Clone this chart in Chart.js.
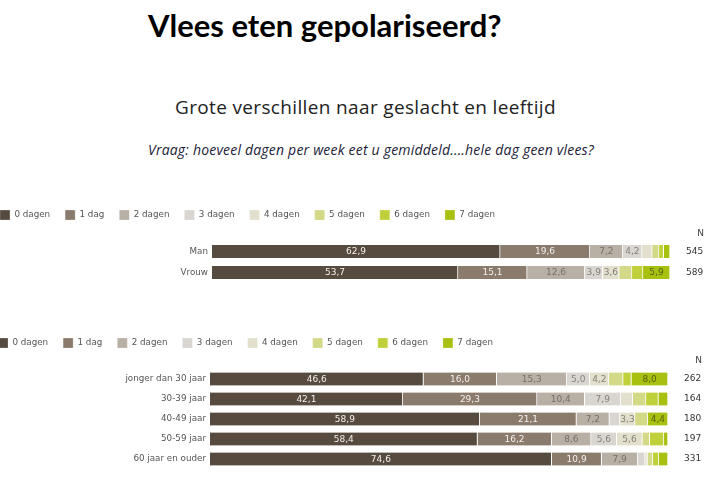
<!DOCTYPE html>
<html>
<head>
<meta charset="utf-8">
<script src="https://cdn.jsdelivr.net/npm/chart.js"></script>
<style>
  body { margin: 0; width: 708px; height: 477px; background: #fff; position: relative; overflow: hidden; }
  #title { position: absolute; left: 148px; top: 6px; font: bold 31px Lato; color: #000; white-space: nowrap; }
  #sub { position: absolute; left: 175px; top: 94px; font: 19px "Open Sans"; letter-spacing: 0.35px; color: #222; white-space: nowrap; }
  #vraag { position: absolute; left: 148px; top: 140px; font: italic 14px "Open Sans"; letter-spacing: 0.2px; color: #1c1c38; white-space: nowrap; }
  canvas { position: absolute; }
  #sexChart { left: -15px; top: 195px; }
  #ageChart { left: -17px; top: 323px; }
</style>
</head>
<body>
<div id="title">Vlees eten gepolariseerd?</div>
<div id="sub">Grote verschillen naar geslacht en leeftijd</div>
<div id="vraag">Vraag: hoeveel dagen per week eet u gemiddeld....hele dag geen vlees?</div>
<canvas id="sexChart" width="723" height="88"></canvas>
<canvas id="ageChart" width="723" height="146"></canvas>
<script>
var dayLabels = ["0 dagen", "1 dag", "2 dagen", "3 dagen", "4 dagen", "5 dagen", "6 dagen", "7 dagen"];
var dayColors = ["#574a3e", "#8a7b6d", "#b8afa5", "#d9d5d0", "#e2e0cc", "#d3d987", "#c0d03a", "#a8c010"];
var textColors = ["#f4f0ec", "#f4f0ec", "#77706a", "#858079", "#858079", "#666666", "#555555", "#556010"];

// geslacht
var sexCategories = ["Man", "Vrouw"];
var sexN = ["545", "589"];
var sexValues = [
  [62.9, 53.7],
  [19.6, 15.1],
  [7.2, 12.6],
  [4.2, 3.9],
  [2.2, 3.6],
  [1.5, 2.8],
  [1.0, 2.4],
  [1.4, 5.9]
];

// leeftijd
var ageCategories = ["jonger dan 30 jaar", "30-39 jaar", "40-49 jaar", "50-59 jaar", "60 jaar en ouder"];
var ageN = ["262", "164", "180", "197", "331"];
var ageValues = [
  [46.6, 42.1, 58.9, 58.4, 74.6],
  [16.0, 29.3, 21.1, 16.2, 10.9],
  [15.3, 10.4, 7.2, 8.6, 7.9],
  [5.0, 7.9, 2.3, 5.6, 1.6],
  [4.2, 2.6, 3.3, 5.6, 0.5],
  [3.1, 2.9, 2.8, 1.6, 1.2],
  [1.8, 2.7, 0, 3.1, 1.3],
  [8.0, 2.1, 4.4, 0.9, 2.0]
];

var smallFont = { family: "DejaVu Sans", size: 8.75 };

// waarden in de balken
var segLabels = {
  id: "segLabels",
  afterDatasetsDraw: function (chart) {
    var ctx = chart.ctx;
    ctx.save();
    ctx.font = '9px "DejaVu Sans"';
    ctx.textAlign = "center";
    ctx.textBaseline = "middle";
    chart.data.datasets.forEach(function (ds, i) {
      chart.getDatasetMeta(i).data.forEach(function (bar, j) {
        var v = ds.data[j];
        if (v < 3.25) return;
        ctx.fillStyle = textColors[i];
        ctx.fillText(v.toFixed(1).replace(".", ","), (bar.x + bar.base) / 2, bar.y + 0.5);
      });
    });
    ctx.restore();
  }
};

// kop "N" boven de kolom
var nHeader = {
  id: "nHeader",
  afterDraw: function (chart) {
    var s = chart.scales.n;
    var ctx = chart.ctx;
    ctx.save();
    ctx.font = '9px "DejaVu Sans"';
    ctx.fillStyle = "#444";
    ctx.textAlign = "right";
    ctx.textBaseline = "middle";
    ctx.fillText("N", s.right - 4, s.getPixelForValue(0) - 18);
    ctx.restore();
  }
};

// vaste breedte, geen extra ruimte boven/onder de as
function fixAxis(w) {
  return function (s) {
    s.width = w;
    s.paddingTop = 0;
    s.paddingBottom = 0;
  };
}

function makeChart(id, cats, nVals, values) {
  var datasets = dayLabels.map(function (lab, i) {
    return {
      label: lab,
      data: values[i],
      backgroundColor: dayColors[i],
      borderColor: "#fff",
      borderWidth: { top: 0, bottom: 0, left: 0, right: 1 },
      borderSkipped: false,
      barThickness: 13
    };
  });
  return new Chart(document.getElementById(id), {
    type: "bar",
    data: { labels: cats, datasets: datasets },
    options: {
      indexAxis: "y",
      responsive: false,
      animation: false,
      plugins: {
        legend: {
          position: "top",
          align: "start",
          labels: { boxWidth: 10, boxHeight: 10, padding: 15, color: "#555", font: smallFont }
        },
        tooltip: { enabled: false }
      },
      scales: {
        x: {
          stacked: true, min: 0, max: 100,
          position: "top",
          grid: { display: false, drawTicks: false },
          border: { display: false },
          ticks: { display: false },
          afterFit: function (s) { s.height = 11; }
        },
        y: {
          stacked: true,
          grid: { display: false, drawTicks: false },
          border: { display: false },
          ticks: { color: "#555", font: smallFont, padding: 4 },
          afterFit: fixAxis(227)
        },
        n: {
          axis: "y",
          type: "category",
          position: "right",
          labels: nVals,
          offset: true,
          grid: { display: false, drawTicks: false },
          border: { display: false },
          ticks: { color: "#333", font: { family: "DejaVu Sans", size: 9 }, padding: 16 },
          afterFit: fixAxis(38)
        }
      }
    },
    plugins: [segLabels, nHeader]
  });
}

makeChart("sexChart", sexCategories, sexN, sexValues);
makeChart("ageChart", ageCategories, ageN, ageValues);
</script>
</body>
</html>
